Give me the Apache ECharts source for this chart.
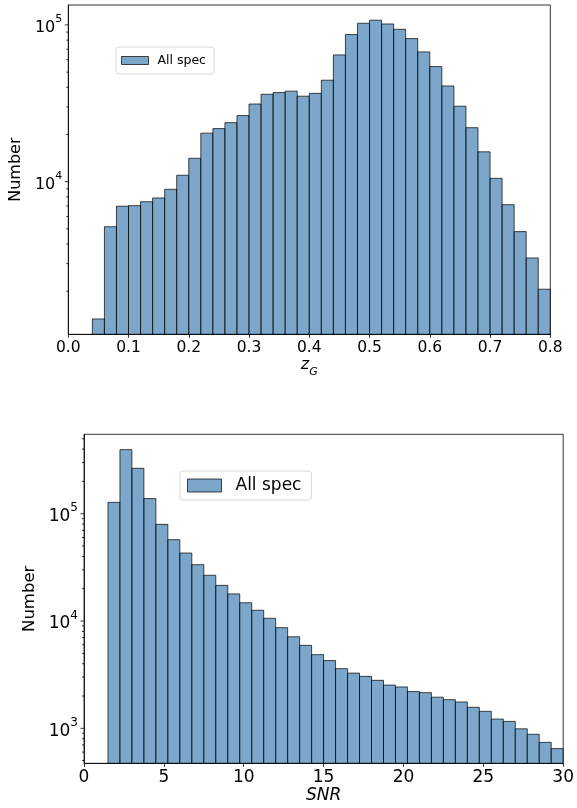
<!DOCTYPE html>
<html>
<head>
<meta charset="utf-8">
<script src="https://cdn.jsdelivr.net/npm/echarts@6/dist/echarts.min.js"></script>
<style>
  html, body { margin: 0; padding: 0; background: #fff; }
  #chart { width: 577px; height: 808px; }
</style>
</head>
<body>
<div id="chart"></div>
<script>
// Redshift histogram: bin edges (lower, upper) and counts
const zEdges = [0.04,0.06,0.08,0.10,0.12,0.14,0.16,0.18,0.20,0.22,0.24,0.26,0.28,0.30,0.32,0.34,0.36,0.38,0.40,
  0.42,0.44,0.46,0.48,0.50,0.52,0.54,0.56,0.58,0.60,0.62,0.64,0.66,0.68,0.70,0.72,0.74,0.76,0.78,0.80];
const zCounts = [1330,5160,6970,7030,7450,7870,8940,10990,14100,20400,21800,23800,26400,31300,36100,37000,37800,
  35100,36600,44400,64400,86800,102500,107200,101400,93800,81800,67300,54200,40800,30300,22100,15500,10500,
  7130,4800,3260,2060];

// SNR histogram: bin edges and counts
const snrEdges = [1.5,2.25,3.0,3.75,4.5,5.25,6.0,6.75,7.5,8.25,9.0,9.75,10.5,11.25,12.0,12.75,13.5,14.25,15.0,
  15.75,16.5,17.25,18.0,18.75,19.5,20.25,21.0,21.75,22.5,23.25,24.0,24.75,25.5,26.25,27.0,27.75,28.5,29.25,30.0];
const snrCounts = [127700,395600,265000,138400,79600,57300,43000,33500,26700,21500,17900,14800,12600,10600,8670,
  7130,5930,4860,4280,3600,3270,3050,2800,2530,2430,2200,2150,1950,1850,1760,1570,1440,1220,1160,990,880,740,647];

// x-axis tick labels
const zTicks = ['0.0','0.1','0.2','0.3','0.4','0.5','0.6','0.7','0.8'];
const snrTicks = ['0','5','10','15','20','25','30'];

const seriesName = 'All spec';
const FONT = 'DejaVu Sans';
const barFill = 'rgba(70,130,180,0.7)';
const barEdge = 'rgba(0,0,0,0.7)';

// axis ranges
const zRange = [0, 0.8], zYRange = [1062, 134000];
const snrRange = [0, 30], snrYRange = [472, 550000];

function toBars(edges, counts) {
  return counts.map((c, i) => [edges[i], edges[i + 1], c]);
}

// log-axis tick positions: decades are major, 2..9 multiples are minor
function logTicks(range) {
  const out = [];
  const lo = Math.floor(Math.log10(range[0])), hi = Math.ceil(Math.log10(range[1]));
  for (let e = lo; e <= hi; e++) {
    for (let m = 1; m <= 9; m++) {
      const v = m * Math.pow(10, e);
      if (v >= range[0] && v <= range[1]) out.push([v, m === 1 ? 3.5 : 2]);
    }
  }
  return out;
}

function barSeries(idx, edges, counts, yMin) {
  return {
    type: 'custom', name: seriesName, xAxisIndex: idx, yAxisIndex: idx,
    itemStyle: { color: barFill, borderColor: barEdge, borderWidth: 1 },
    encode: { x: [0, 1], y: 2 },
    data: toBars(edges, counts),
    renderItem(params, api) {
      const a = api.coord([api.value(0), api.value(2)]);
      const b = api.coord([api.value(1), yMin]);
      return {
        type: 'rect',
        shape: { x: a[0], y: a[1], width: b[0] - a[0], height: b[1] - a[1] },
        style: { fill: barFill, stroke: barEdge, lineWidth: 1 }
      };
    }
  };
}

function tickSeries(idx, range, xMin) {
  return {
    type: 'custom', xAxisIndex: idx, yAxisIndex: idx, silent: true, clip: false,
    encode: { x: -1, y: 0 },
    data: logTicks(range),
    renderItem(params, api) {
      const p = api.coord([xMin, api.value(0)]);
      const len = api.value(1);
      return {
        type: 'line',
        shape: { x1: p[0] - len, y1: p[1], x2: p[0], y2: p[1] },
        style: { stroke: '#000', lineWidth: 0.8 }
      };
    }
  };
}

function powLabel(v) {
  const e = Math.log10(v);
  if (Math.abs(e - Math.round(e)) < 1e-6) return '{b|10}{s|' + Math.round(e) + '}';
  return '';
}

function yAxis(idx, range, fs, nameFs, gap, margin) {
  return {
    type: 'log', logBase: 10, gridIndex: idx, min: range[0], max: range[1],
    name: 'Number', nameLocation: 'middle', nameGap: gap,
    nameTextStyle: { fontFamily: FONT, fontSize: nameFs, color: '#000' },
    axisLine: { show: true, lineStyle: { color: '#000', width: 0.8 } },
    axisTick: { show: false },
    splitLine: { show: false },
    minorTick: { show: false },
    axisLabel: {
      margin: margin, formatter: powLabel, color: '#000',
      rich: {
        b: { fontFamily: FONT, fontSize: fs, color: '#000', lineHeight: fs + 6, verticalAlign: 'bottom' },
        s: { fontFamily: FONT, fontSize: Math.round(fs * 0.7), color: '#000', verticalAlign: 'top', lineHeight: fs + 6 }
      }
    }
  };
}

function xAxis(idx, range, interval, labels, fs, nameText, rich, gap) {
  return {
    type: 'value', gridIndex: idx, min: range[0], max: range[1], interval: interval,
    name: nameText, nameLocation: 'middle', nameGap: gap,
    nameTextStyle: { fontFamily: FONT, fontSize: fs, color: '#000', rich: rich },
    axisLine: { show: true, onZero: false, lineStyle: { color: '#000', width: 0.8 } },
    axisTick: { show: true, length: 3.5, lineStyle: { color: '#000', width: 0.8 } },
    splitLine: { show: false },
    axisLabel: {
      margin: 6, fontFamily: FONT, fontSize: fs, color: '#000',
      formatter: (v) => labels[Math.round((v - range[0]) / interval)] || ''
    }
  };
}

function legend(left, top, fs, iw, ih, pad, textPadLeft) {
  return {
    left: left, top: top, orient: 'horizontal',
    data: [{ name: seriesName, icon: 'rect', itemStyle: { color: barFill, borderColor: barEdge, borderWidth: 1 } }],
    itemWidth: iw, itemHeight: ih,
    padding: pad,
    borderColor: '#d8d8d8', borderWidth: 1, borderRadius: 3,
    backgroundColor: 'rgba(255,255,255,0.8)',
    selectedMode: false,
    textStyle: { fontFamily: FONT, fontSize: fs, color: '#000', padding: [0, 0, 0, textPadLeft] }
  };
}

const chart = echarts.init(document.getElementById('chart'), null, { renderer: 'canvas', width: 577, height: 808 });

chart.setOption({
  animation: false,
  backgroundColor: '#fff',
  grid: [
    { left: 68, right: 26.7, top: 5, height: 329.3, show: true, borderColor: '#000', borderWidth: 0.8, backgroundColor: 'transparent' },
    { left: 84, right: 11.7, top: 434.3, height: 329, show: true, borderColor: '#000', borderWidth: 0.8, backgroundColor: 'transparent' }
  ],
  legend: [
    legend(116, 47, 12.5, 27, 8, [7, 8, 7, 5], 4),
    legend(180, 471, 17, 34, 13, [6, 10, 6, 7], 9)
  ],
  xAxis: [
    xAxis(0, zRange, 0.1, zTicks, 15.5, '{i|z}{g|G}', {
      i: { fontFamily: FONT, fontStyle: 'italic', fontSize: 16, color: '#000', verticalAlign: 'top' },
      g: { fontFamily: FONT, fontStyle: 'italic', fontSize: 11, color: '#000', verticalAlign: 'bottom', padding: [0, 0, -4, 0] }
    }, 20),
    xAxis(1, snrRange, 5, snrTicks, 17, '{i|SNR}', {
      i: { fontFamily: FONT, fontStyle: 'italic', fontSize: 17, color: '#000' }
    }, 16)
  ],
  yAxis: [
    yAxis(0, zYRange, 16, 16, 43, 6),
    yAxis(1, snrYRange, 17, 16.5, 42, 6)
  ],
  series: [
    barSeries(0, zEdges, zCounts, zYRange[0]),
    barSeries(1, snrEdges, snrCounts, snrYRange[0]),
    tickSeries(0, zYRange, zRange[0]),
    tickSeries(1, snrYRange, snrRange[0])
  ]
});
</script>
</body>
</html>
